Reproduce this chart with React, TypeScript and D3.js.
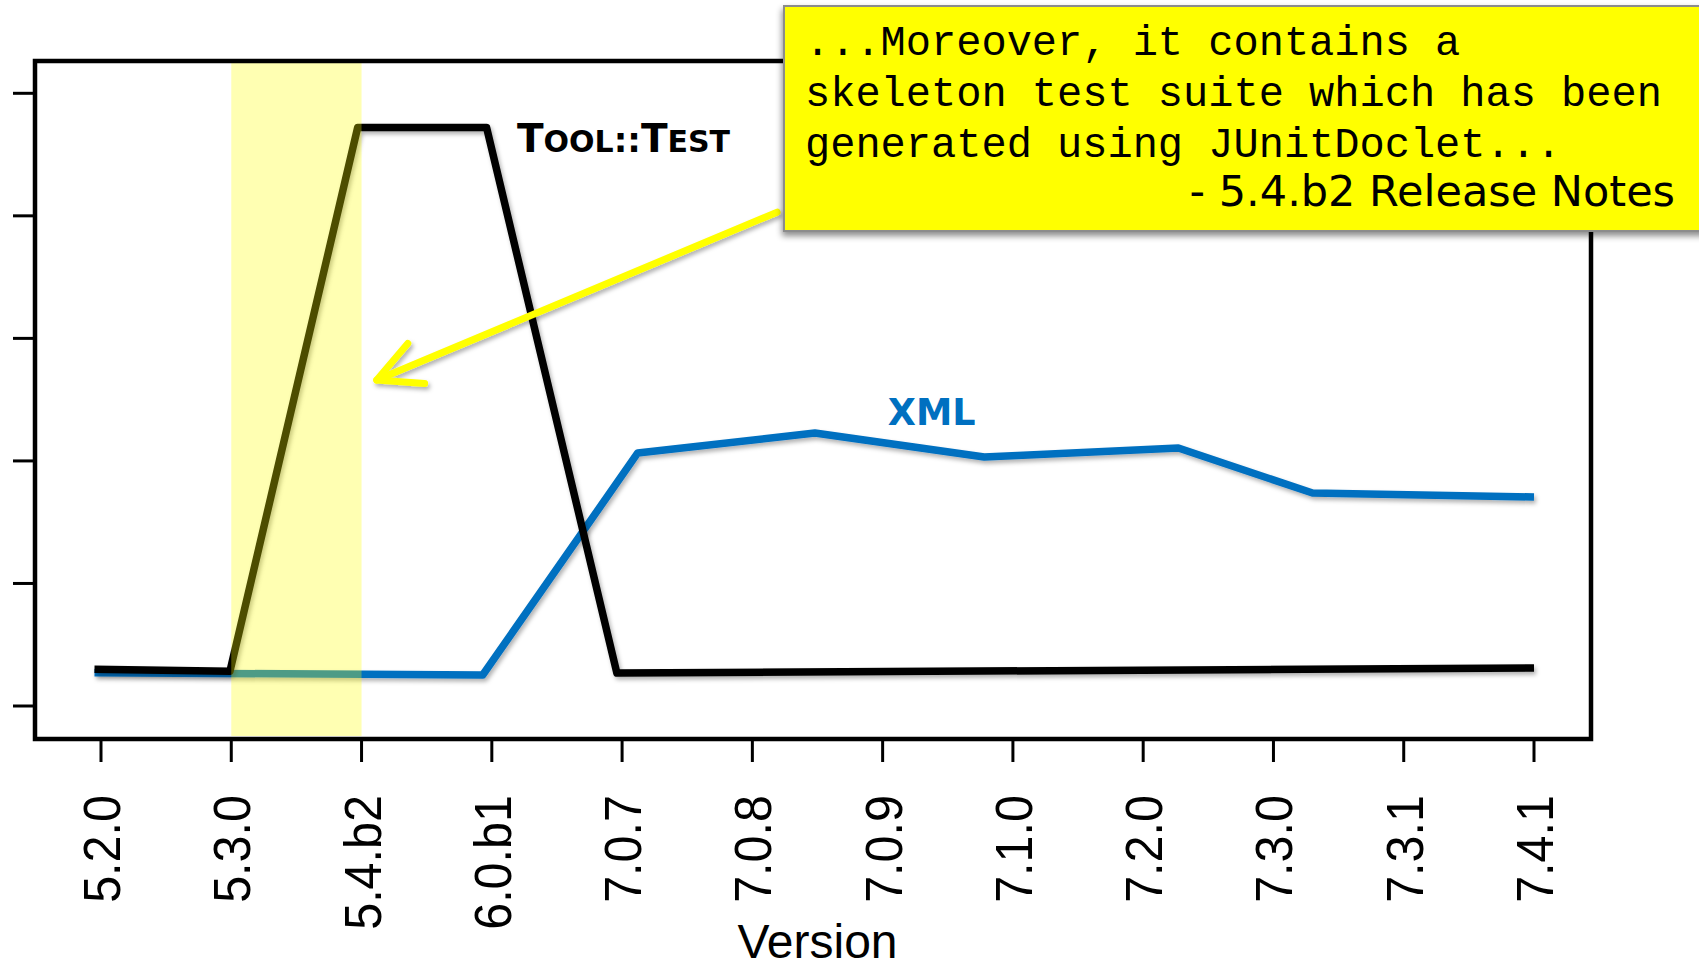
import React from "react";
import * as d3 from "d3";

// ---- data ----
const versions = ["5.2.0", "5.3.0", "5.4.b2", "6.0.b1", "7.0.7", "7.0.8", "7.0.9", "7.1.0", "7.2.0", "7.3.0", "7.3.1", "7.4.1"];
const yTicks = [0, 10, 20, 30, 40, 50];
// position along the version axis (index units) and share value
const toolTestX = [-0.05, 0.99, 1.97, 2.96, 3.96, 11];
const toolTestY = [3.0, 2.84, 47.2, 47.2, 2.69, 3.1];
const xmlX = [-0.05, 2.93, 4.12, 5.48, 6.78, 8.27, 9.3, 11];
const xmlY = [2.72, 2.53, 20.65, 22.28, 20.32, 21.05, 17.38, 17.06];
const highlight = [1, 2]; // 5.3.0 .. 5.4.b2
const calloutLines = ["...Moreover, it contains a", "skeleton test suite which has been", "generated using JUnitDoclet..."];
const calloutSource = "- 5.4.b2 Release Notes";
// annotation anchors in data units
const toolLabel = { x: 3.193, y: 45.2 };
const xmlLabel = { x: 6.04, y: 22.93 };
const arrowFrom = { x: 5.19, y: 40.3 };
const arrowTo = { x: 2.117, y: 26.6 };

const W = 1699;
const H = 967;
const frame = { left: 35, right: 1591, top: 61, bottom: 739 };

export default function App() {
  const x = d3.scaleLinear().domain([0, versions.length - 1]).range([101, 1534]);
  const y = d3.scaleLinear().domain([0, 50]).range([706, 93.3]);

  const line = d3
    .line<[number, number]>()
    .x((d) => x(d[0]))
    .y((d) => y(d[1]));

  const toolPts: [number, number][] = toolTestX.map((v, i) => [v, toolTestY[i]]);
  const xmlPts: [number, number][] = xmlX.map((v, i) => [v, xmlY[i]]);

  // arrow geometry
  const ax0 = x(arrowFrom.x), ay0 = y(arrowFrom.y);
  const ax1 = x(arrowTo.x), ay1 = y(arrowTo.y);
  const ang = Math.atan2(ay0 - ay1, ax0 - ax1);
  const headLen = 48;
  const spread = (27 * Math.PI) / 180;
  const h1 = [ax1 + headLen * Math.cos(ang - spread), ay1 + headLen * Math.sin(ang - spread)];
  const h2 = [ax1 + headLen * Math.cos(ang + spread), ay1 + headLen * Math.sin(ang + spread)];

  const sans = "'Liberation Sans', Arial, sans-serif";
  const bold = "'DejaVu Sans', Verdana, sans-serif";

  return (
    <svg width={W} height={H} style={{ position: "absolute", left: 0, top: 0, display: "block", background: "#fff" }}>
      <defs>
        <filter id="shadow" filterUnits="userSpaceOnUse" x={0} y={0} width={W} height={H}>
          <feDropShadow dx={2} dy={3} stdDeviation={2} floodColor="#000" floodOpacity={0.3} />
        </filter>
        <filter id="boxShadow" filterUnits="userSpaceOnUse" x={0} y={0} width={W} height={H}>
          <feDropShadow dx={-1} dy={4} stdDeviation={3} floodColor="#000" floodOpacity={0.45} />
        </filter>
      </defs>

      {/* series lines */}
      <path d={line(xmlPts) || ""} fill="none" stroke="#0070C0" strokeWidth={7.5} strokeLinejoin="round" filter="url(#shadow)" />
      <path d={line(toolPts) || ""} fill="none" stroke="#000" strokeWidth={7.5} strokeLinejoin="round" filter="url(#shadow)" />

      {/* highlight band */}
      <rect
        x={x(highlight[0])}
        y={frame.top}
        width={x(highlight[1]) - x(highlight[0])}
        height={frame.bottom - 3 - frame.top}
        fill="#FFFF00"
        fillOpacity={0.3}
      />

      {/* frame */}
      <rect
        x={frame.left}
        y={frame.top}
        width={frame.right - frame.left}
        height={frame.bottom - frame.top}
        fill="none"
        stroke="#000"
        strokeWidth={4.5}
      />

      {/* y ticks (no labels) */}
      {yTicks.map((t) => (
        <line key={t} x1={13} x2={frame.left} y1={y(t)} y2={y(t)} stroke="#000" strokeWidth={3} />
      ))}

      {/* x ticks + labels */}
      {versions.map((v, i) => (
        <g key={v}>
          <line x1={x(i)} x2={x(i)} y1={frame.bottom + 2} y2={frame.bottom + 23} stroke="#000" strokeWidth={3} />
          <text
            transform={`translate(${x(i) + 19},795) rotate(-90) scale(1,1.05)`}
            textAnchor="end"
            fontFamily={sans}
            fontSize={48.5}
            fill="#000"
          >
            {v}
          </text>
        </g>
      ))}
      <text x={(x(0) + x(versions.length - 1)) / 2} y={958} textAnchor="middle" fontFamily={sans} fontSize={48} fill="#000">
        Version
      </text>

      {/* series labels */}
      <text x={x(toolLabel.x)} y={y(toolLabel.y)} fontFamily={bold} fontWeight="bold" fill="#000">
        <tspan fontSize={39}>T</tspan>
        <tspan fontSize={30}>OOL</tspan>
        <tspan fontSize={34}>::</tspan>
        <tspan fontSize={39}>T</tspan>
        <tspan fontSize={30}>EST</tspan>
      </text>
      <text x={x(xmlLabel.x)} y={y(xmlLabel.y)} fontFamily={bold} fontWeight="bold" fontSize={36.5} fill="#0070C0">
        XML
      </text>

      {/* arrow */}
      <g stroke="#FFFF00" strokeWidth={7} strokeLinecap="round" strokeLinejoin="round" fill="none" filter="url(#shadow)">
        <line x1={ax0} y1={ay0} x2={ax1} y2={ay1} />
        <polyline points={`${h1[0]},${h1[1]} ${ax1},${ay1} ${h2[0]},${h2[1]}`} />
      </g>

      {/* callout */}
      <rect x={784} y={6} width={1000} height={225} fill="#FFFF00" stroke="#8c8c8c" strokeWidth={2} filter="url(#boxShadow)" />
      {calloutLines.map((l, i) => (
        <text
          key={i}
          x={805}
          y={55 + i * 51}
          fontFamily="'Liberation Mono', 'Courier New', monospace"
          fontSize={42}
          fill="#000"
          style={{ whiteSpace: "pre" }}
        >
          {l}
        </text>
      ))}
      <text x={1675} y={206} textAnchor="end" fontFamily={bold} fontSize={43} fill="#000">
        {calloutSource}
      </text>
    </svg>
  );
}
